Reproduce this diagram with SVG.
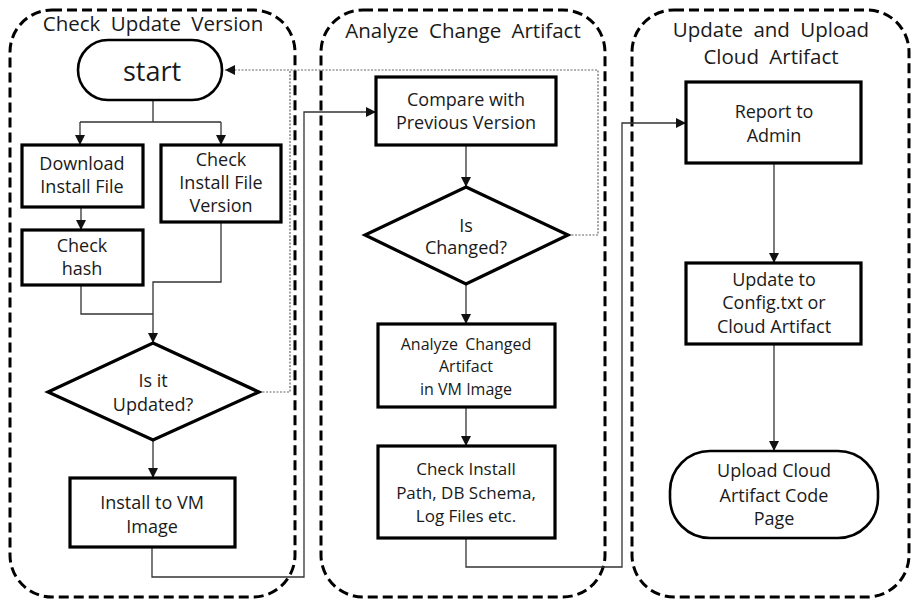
<svg xmlns="http://www.w3.org/2000/svg" width="912" height="603" viewBox="0 0 912 603">
<style>
text{font-family:"Open Sans","Noto Sans","Liberation Sans",sans-serif;fill:#1a1a1a;text-anchor:middle;font-size:18px}
.title{font-size:20.5px;word-spacing:5px}
.cont{fill:none;stroke:#000;stroke-width:3;stroke-dasharray:10 5}
.box{fill:#fff;stroke:#000;stroke-width:3.2}
.pill{fill:#fff;stroke:#000;stroke-width:2.6}
.ln{fill:none;stroke:#333;stroke-width:1.3}
.dot{fill:none;stroke:#666;stroke-width:1.2;stroke-dasharray:2 1.5}
</style>
<defs>
<marker id="ah" viewBox="0 0 10 10" refX="10" refY="5" markerWidth="10" markerHeight="10" markerUnits="userSpaceOnUse" orient="auto">
<path d="M0,0 L10,5 L0,10 Z" fill="#111"/>
</marker>
</defs>
<rect width="912" height="603" fill="#fff"/>
<g id="containers">
<rect class="cont" x="10" y="10" width="285" height="587" rx="42"/>
<rect class="cont" x="321" y="10" width="284" height="587" rx="42"/>
<rect class="cont" x="632" y="10" width="277" height="587" rx="42"/>
<text class="title" x="153" y="31">Check Update Version</text>
<text class="title" x="463" y="38">Analyze Change Artifact</text>
<text class="title" x="771" y="37">Update and Upload</text>
<text class="title" x="771" y="64">Cloud Artifact</text>
</g>
<g id="connectors">
<path class="ln" d="M153,100 V122 M80,122 H221" />
<path class="ln" d="M80,122 V145" marker-end="url(#ah)"/>
<path class="ln" d="M221,122 V145" marker-end="url(#ah)"/>
<path class="ln" d="M81,207 V230" marker-end="url(#ah)"/>
<path class="ln" d="M81,285 V314 H153"/>
<path class="ln" d="M221,222 V282 H153 V343" marker-end="url(#ah)"/>
<path class="ln" d="M153,440 V478" marker-end="url(#ah)"/>
<path class="ln" d="M152,547 V577 H304 V112 H376" marker-end="url(#ah)"/>
<path class="ln" d="M466,145 V187" marker-end="url(#ah)"/>
<path class="ln" d="M466,284 V324" marker-end="url(#ah)"/>
<path class="ln" d="M466,407 V446" marker-end="url(#ah)"/>
<path class="ln" d="M466,538 V567 H622 V123 H686" marker-end="url(#ah)"/>
<path class="ln" d="M774,163 V263" marker-end="url(#ah)"/>
<path class="ln" d="M774,344 V451" marker-end="url(#ah)"/>
<path class="dot" d="M259,392 H290 V70"/>
<path class="dot" d="M568,235 H598 V70 H225"/>
<path d="M225,70 L235,65 L235,75 Z" fill="#111"/>
</g>
<g id="start">
<rect class="pill" x="78" y="40" width="144" height="60" rx="30"/>
<text x="152" y="81" style="font-size:27px">start</text>
</g>
<g id="download">
<rect class="box" x="22" y="145" width="121" height="62"/>
<text x="82" y="170">Download</text>
<text x="82" y="193">Install File</text>
</g>
<g id="checkversion">
<rect class="box" x="161" y="145" width="120" height="77"/>
<text x="221" y="166">Check</text>
<text x="221" y="189">Install File</text>
<text x="221" y="212">Version</text>
</g>
<g id="checkhash">
<rect class="box" x="22" y="230" width="121" height="55"/>
<text x="82" y="252">Check</text>
<text x="82" y="275">hash</text>
</g>
<g id="isupdated">
<polygon class="box" points="153,343 259,392 153,440 48,392"/>
<text x="153" y="387">Is it</text>
<text x="153" y="411">Updated?</text>
</g>
<g id="install">
<rect class="box" x="70" y="478" width="165" height="69"/>
<text x="152" y="509">Install to VM</text>
<text x="152" y="533">Image</text>
</g>
<g id="compare">
<rect class="box" x="376" y="77" width="180" height="68"/>
<text x="466" y="106">Compare with</text>
<text x="466" y="129">Previous Version</text>
</g>
<g id="ischanged">
<polygon class="box" points="466,187 568,235 466,284 365,235"/>
<text x="466" y="232">Is</text>
<text x="466" y="254">Changed?</text>
</g>
<g id="analyze">
<rect class="box" x="378" y="324" width="177" height="83"/>
<text x="466" y="350" style="font-size:16px;word-spacing:3px">Analyze Changed</text>
<text x="466" y="372" style="font-size:16px">Artifact</text>
<text x="466" y="395" style="font-size:16px">in VM Image</text>
</g>
<g id="checkinstall">
<rect class="box" x="378" y="446" width="177" height="92"/>
<text x="466" y="475" style="font-size:17px">Check Install</text>
<text x="466" y="499" style="font-size:17px">Path, DB Schema,</text>
<text x="466" y="522" style="font-size:17px">Log Files etc.</text>
</g>
<g id="report">
<rect class="box" x="686" y="82" width="175" height="81"/>
<text x="774" y="118">Report to</text>
<text x="774" y="142">Admin</text>
</g>
<g id="updateconfig">
<rect class="box" x="686" y="263" width="175" height="81"/>
<text x="774" y="286">Update to</text>
<text x="774" y="309">Config.txt or</text>
<text x="774" y="333">Cloud Artifact</text>
</g>
<g id="upload">
<rect class="pill" x="670" y="451" width="208" height="87" rx="40"/>
<text x="774" y="477">Upload Cloud</text>
<text x="774" y="502">Artifact Code</text>
<text x="774" y="525">Page</text>
</g>
</svg>
